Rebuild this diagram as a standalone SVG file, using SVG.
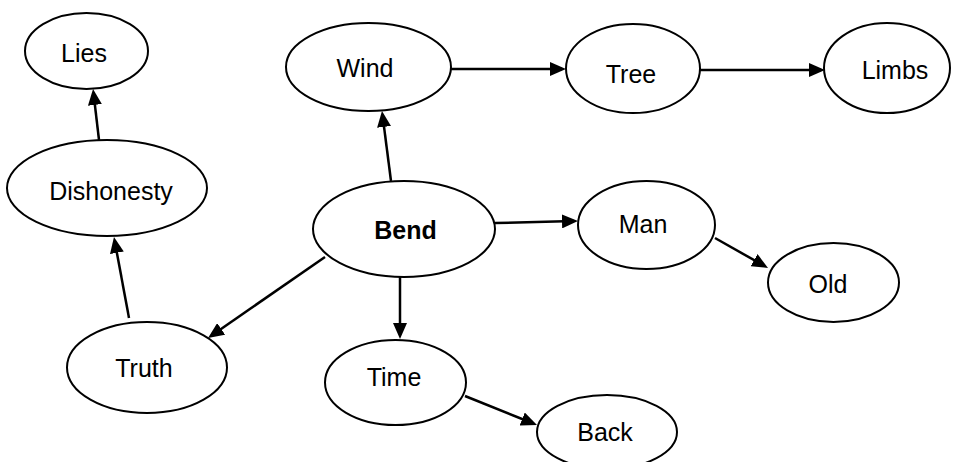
<svg xmlns="http://www.w3.org/2000/svg" width="962" height="462" viewBox="0 0 962 462">
<style>
.n ellipse{fill:#fff;stroke:#000;stroke-width:2}
.n text{font-family:"Liberation Sans",Arial,sans-serif;font-size:25px;fill:#000;text-anchor:middle}
.c line{stroke:#000;stroke-width:2.5;marker-end:url(#ah)}
</style>
<defs>
<marker id="ah" viewBox="0 0 16 14" refX="12" refY="7" markerWidth="16" markerHeight="14" orient="auto" markerUnits="userSpaceOnUse">
<path d="M0,0 L16,7 L0,14 z" fill="#000"/>
</marker>
</defs>
<rect width="962" height="462" fill="#fff"/>
<g class="c" id="connectors">
<line x1="99" y1="140" x2="93.5" y2="93"/>
<line x1="129" y1="318" x2="114.7" y2="241"/>
<line x1="391" y1="181" x2="382.5" y2="115"/>
<line x1="451" y1="69" x2="562" y2="69"/>
<line x1="700" y1="70" x2="821" y2="70"/>
<line x1="495" y1="223" x2="574" y2="221.1"/>
<line x1="715" y1="238" x2="764.5" y2="266"/>
<line x1="325" y1="257" x2="211.3" y2="335.7"/>
<line x1="400" y1="277" x2="400" y2="335"/>
<line x1="465" y1="396" x2="533.3" y2="423.5"/>
</g>
<g class="n" id="lies"><ellipse cx="86.5" cy="51" rx="61.5" ry="38"/><text x="84" y="62">Lies</text></g>
<g class="n" id="dishonesty"><ellipse cx="107" cy="188" rx="100" ry="48"/><text x="111" y="200">Dishonesty</text></g>
<g class="n" id="wind"><ellipse cx="368.5" cy="67" rx="82.5" ry="44"/><text x="365" y="77">Wind</text></g>
<g class="n" id="tree"><ellipse cx="633" cy="68.5" rx="67" ry="44.5"/><text x="631" y="83">Tree</text></g>
<g class="n" id="limbs"><ellipse cx="887" cy="68" rx="63" ry="45"/><text x="895" y="79">Limbs</text></g>
<g class="n" id="bend"><ellipse cx="404" cy="229" rx="91" ry="48"/><text x="405.5" y="239" font-weight="bold">Bend</text></g>
<g class="n" id="man"><ellipse cx="646.5" cy="225" rx="68.5" ry="44"/><text x="643" y="233">Man</text></g>
<g class="n" id="old"><ellipse cx="833.5" cy="282.5" rx="65.5" ry="39.5"/><text x="828" y="293">Old</text></g>
<g class="n" id="truth"><ellipse cx="147" cy="367.5" rx="80" ry="45.5"/><text x="144" y="377">Truth</text></g>
<g class="n" id="time"><ellipse cx="395.5" cy="382.5" rx="70.5" ry="42.5"/><text x="394" y="386">Time</text></g>
<g class="n" id="back"><ellipse cx="607" cy="432" rx="70" ry="37"/><text x="605" y="441">Back</text></g>
</svg>
